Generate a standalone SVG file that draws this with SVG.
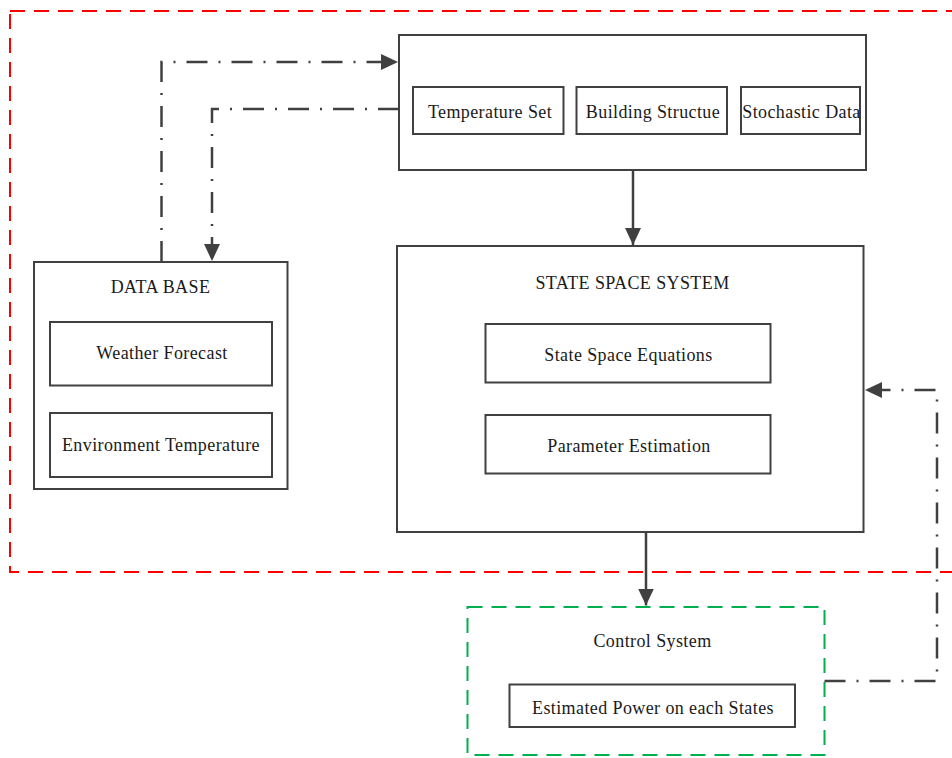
<svg xmlns="http://www.w3.org/2000/svg" width="952" height="758" viewBox="0 0 952 758">
  <defs>
    <style>
      .box { fill: #ffffff; stroke: #404040; stroke-width: 2; }
      .inner { fill: #ffffff; stroke: #404040; stroke-width: 2; }
      .label { font-family: "Liberation Serif", "Times New Roman", serif; font-size: 18px; letter-spacing: 0.4px; fill: #1a1a1a; text-anchor: middle; }
      .flow { fill: none; stroke: #404040; stroke-width: 2.5; }
      .dashdot { fill: none; stroke: #404040; stroke-width: 2.5; stroke-dasharray: 21 11 2 11; }
      .zone-red { fill: none; stroke: #ff0000; stroke-width: 2; stroke-dasharray: 15 9; }
      .zone-green { fill: none; stroke: #00b050; stroke-width: 2; stroke-dasharray: 15 9; }
    </style>
    <marker id="arrow" markerUnits="userSpaceOnUse" markerWidth="18" markerHeight="17" refX="17" refY="8" orient="auto">
      <path d="M0,0 L17,8 L0,16 z" fill="#404040"/>
    </marker>
  </defs>

  <rect width="952" height="758" fill="#ffffff"/>

  <!-- modelling zone boundary (runs off the right edge) -->
  <rect id="zone-model" class="zone-red" x="10" y="11" width="960" height="561"/>

  <!-- control zone boundary -->
  <rect id="zone-control" class="zone-green" x="467.5" y="607" width="357" height="148"/>

  <!-- input parameters -->
  <g id="inputs">
    <rect class="box" x="399" y="35" width="467" height="135"/>
    <g id="temperature-set">
      <rect class="inner" x="413" y="87" width="150.5" height="47"/>
      <text class="label" x="490" y="117.5">Temperature Set</text>
    </g>
    <g id="building-structure">
      <rect class="inner" x="576.5" y="87" width="150.5" height="47"/>
      <text class="label" x="653" y="117.5">Building Structue</text>
    </g>
    <g id="stochastic-data">
      <rect class="inner" x="741" y="87" width="119" height="47"/>
      <text class="label" x="801.5" y="117.5">Stochastic Data</text>
    </g>
  </g>

  <!-- data base -->
  <g id="data-base">
    <rect class="box" x="34" y="262" width="253.5" height="227"/>
    <text class="label" x="160.5" y="292.5">DATA BASE</text>
    <g id="weather-forecast">
      <rect class="inner" x="50" y="322" width="222" height="63.5"/>
      <text class="label" x="162" y="358.5">Weather Forecast</text>
    </g>
    <g id="environment-temperature">
      <rect class="inner" x="50" y="413" width="222" height="64"/>
      <text class="label" x="161" y="450.5">Environment Temperature</text>
    </g>
  </g>

  <!-- state space system -->
  <g id="state-space-system">
    <rect class="box" x="397" y="246" width="466.5" height="286"/>
    <text class="label" x="632.5" y="288.5">STATE SPACE SYSTEM</text>
    <g id="state-space-equations">
      <rect class="inner" x="485.5" y="324" width="285" height="58.5"/>
      <text class="label" x="628.5" y="360.5">State Space Equations</text>
    </g>
    <g id="parameter-estimation">
      <rect class="inner" x="485.5" y="415" width="285" height="58.5"/>
      <text class="label" x="629" y="451.5">Parameter Estimation</text>
    </g>
  </g>

  <!-- control system -->
  <g id="control-system">
    <text class="label" x="652.5" y="647">Control System</text>
    <g id="estimated-power">
      <rect class="inner" x="509.5" y="684.5" width="285.5" height="42.5"/>
      <text class="label" x="653" y="713.5">Estimated Power on each States</text>
    </g>
  </g>

  <!-- connectors -->
  <g id="connectors">
    <path class="dashdot" d="M161.5,262 V62 H398" marker-end="url(#arrow)"/>
    <path class="dashdot" d="M399,109 H212 V261" marker-end="url(#arrow)"/>
    <path class="flow" d="M633,171 V245" marker-end="url(#arrow)"/>
    <path class="flow" d="M646,533 V605.5" marker-end="url(#arrow)"/>
    <path class="dashdot" d="M824.5,681 H937 V390 H865" marker-end="url(#arrow)"/>
  </g>
</svg>
